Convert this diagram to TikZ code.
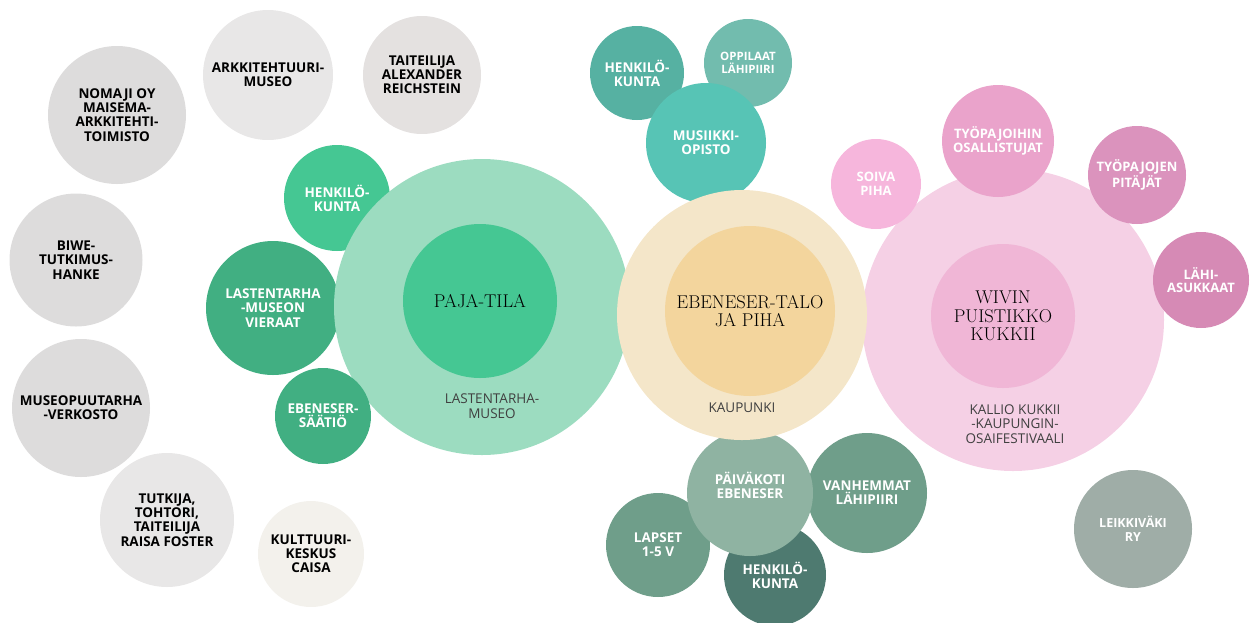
\documentclass[tikz,border=0pt]{standalone}
\usepackage{fontspec}
\newfontfamily\labelfont{Open Sans}
\definecolor{grA}{HTML}{DDDCDC}
\definecolor{grB}{HTML}{E8E7E7}
\definecolor{grC}{HTML}{E4E1E0}
\definecolor{grD}{HTML}{F3F1EC}
\definecolor{mintbig}{HTML}{9CDCC0}
\definecolor{mint}{HTML}{45C793}
\definecolor{mintdark}{HTML}{41AF82}
\definecolor{tealA}{HTML}{56B1A2}
\definecolor{tealB}{HTML}{72BCAE}
\definecolor{tealC}{HTML}{57C4B5}
\definecolor{sandbig}{HTML}{F4E6C9}
\definecolor{sand}{HTML}{F3D59D}
\definecolor{sageA}{HTML}{8FB3A2}
\definecolor{sageB}{HTML}{6F9E8A}
\definecolor{sageC}{HTML}{4E7A70}
\definecolor{sageD}{HTML}{9FADA7}
\definecolor{rosebig}{HTML}{F5D0E5}
\definecolor{rose}{HTML}{F0B6D6}
\definecolor{roseA}{HTML}{F6B6DC}
\definecolor{roseB}{HTML}{EAA3CB}
\definecolor{roseC}{HTML}{DB93BD}
\definecolor{roseD}{HTML}{D68AB5}
\tikzset{
  bub/.style={circle, inner sep=0pt, align=center, text=white,
    font=\labelfont\bfseries\fontsize{13.5}{14.2}\selectfont},
  partner/.style={bub, text=black},
  hub/.style={circle, inner sep=0pt, align=center, text=black,
    font=\fontsize{18.5}{18.5}\selectfont},
  sublabel/.style={align=center, text=black!75,
    font=\labelfont\fontsize{13.5}{14.5}\selectfont}
}
\begin{document}
\begin{tikzpicture}[x=1pt,y=-1pt]
	\useasboundingbox (0,0) rectangle (1250,622);
	% partners outside
	\node [partner, fill=grA, minimum size=138pt] (nomaji) at (117,115) {NOMAJI OY\\MAISEMA-\\ARKKITEHTI-\\TOIMISTO};
	\node [partner, fill=grB, minimum size=130pt] (arkmuseo) at (268,75) {ARKKITEHTUURI-\\MUSEO};
	\node [partner, fill=grC, minimum size=118pt] (reichstein) at (422,75) {TAITEILIJA\\ALEXANDER\\REICHSTEIN};
	\node [partner, fill=grA, minimum size=133pt] (biwe) at (76,260) {BIWE-\\TUTKIMUS-\\HANKE};
	\node [partner, fill=grA, minimum size=138pt] (puutarha) at (81,408) {MUSEOPUUTARHA\\-VERKOSTO};
	\node [partner, fill=grB, minimum size=134pt] (foster) at (167,520) {TUTKIJA,\\TOHTORI,\\TAITEILIJA\\RAISA FOSTER};
	\node [partner, fill=grD, minimum size=106pt] (caisa) at (311,554) {KULTTUURI-\\KESKUS\\CAISA};
	% lastentarhamuseo
	\node [bub, fill=mint, minimum size=106pt] (henk1) at (337,198) {HENKILÖ-\\KUNTA};
	\node [bub, fill=mintdark, minimum size=134pt] (vieraat) at (273,308) {LASTENTARHA\\-MUSEON\\VIERAAT};
	\node [circle, fill=mintbig, minimum size=296pt] (museo) at (482,307) {};
	\node [hub, fill=mint, minimum size=154pt] (paja) at (480,301) {PAJA-TILA};
	\node [bub, fill=mintdark, minimum size=96pt] (saatio) at (323,416) {EBENESER-\\SÄÄTIÖ};
	\node [sublabel] (museolbl) at (492,406) {LASTENTARHA-\\MUSEO};
	% musiikkiopisto
	\node [bub, fill=tealA, minimum size=94pt] (henk2) at (637,73) {HENKILÖ-\\KUNTA};
	\node [bub, fill=tealB, minimum size=88pt, font=\labelfont\bfseries\fontsize{11.5}{12.5}\selectfont] (oppilaat) at (748,63) {OPPILAAT\\LÄHIPIIRI};
	\node [bub, fill=tealC, minimum size=120pt] (musiikki) at (706,143) {MUSIIKKI-\\OPISTO};
	% kallio kukkii
	\node [circle, fill=rosebig, minimum size=302pt] (kallio) at (1013,320) {};
	\node [hub, fill=rose, minimum size=144pt] (wivin) at (1003,316) {WIVIN\\PUISTIKKO\\KUKKII};
	\node [bub, fill=roseA, minimum size=90pt, font=\labelfont\bfseries\fontsize{13}{13.8}\selectfont] (soiva) at (876,184) {SOIVA\\PIHA};
	\node [bub, fill=roseB, minimum size=112pt, font=\labelfont\bfseries\fontsize{13}{13.5}\selectfont] (osallistujat) at (998,141) {TYÖPAJOIHIN\\OSALLISTUJAT};
	\node [bub, fill=roseC, minimum size=98pt, font=\labelfont\bfseries\fontsize{13}{13.5}\selectfont] (pitajat) at (1137,175) {TYÖPAJOJEN\\PITÄJÄT};
	\node [bub, fill=roseD, minimum size=96pt, font=\labelfont\bfseries\fontsize{13}{13.5}\selectfont] (asukkaat) at (1201,280) {LÄHI-\\ASUKKAAT};
	\node [sublabel] (kalliolbl) at (1015,424) {KALLIO KUKKII\\-KAUPUNGIN-\\OSAIFESTIVAALI};
	\node [bub, fill=sageD, minimum size=118pt, font=\labelfont\bfseries\fontsize{12.5}{13.5}\selectfont] (leikkivaki) at (1133,529) {LEIKKIVÄKI\\RY};
	% paivakoti
	\node [bub, fill=sageB, minimum size=104pt] (lapset) at (658,545) {LAPSET\\1-5 V};
	\node [bub, fill=sageB, minimum size=120pt] (vanhemmat) at (867,493) {VANHEMMAT\\LÄHIPIIRI};
	\node [bub, fill=sageC, minimum size=102pt] (henk3) at (775,575) {HENKILÖ-\\KUNTA};
	\node [bub, fill=sageA, minimum size=126pt] (paivakoti) at (750,493) {PÄIVÄKOTI\\EBENESER\\[2pt]};
	% kaupunki
	\node [circle, fill=sandbig, minimum size=250pt] (kaupunki) at (742,315) {};
	\node [hub, fill=sand, minimum size=170pt] (ebeneser) at (750,311) {EBENESER-TALO\\JA PIHA};
	\node [sublabel] (kaupunkilbl) at (742,408) {KAUPUNKI};
\end{tikzpicture}
\end{document}
